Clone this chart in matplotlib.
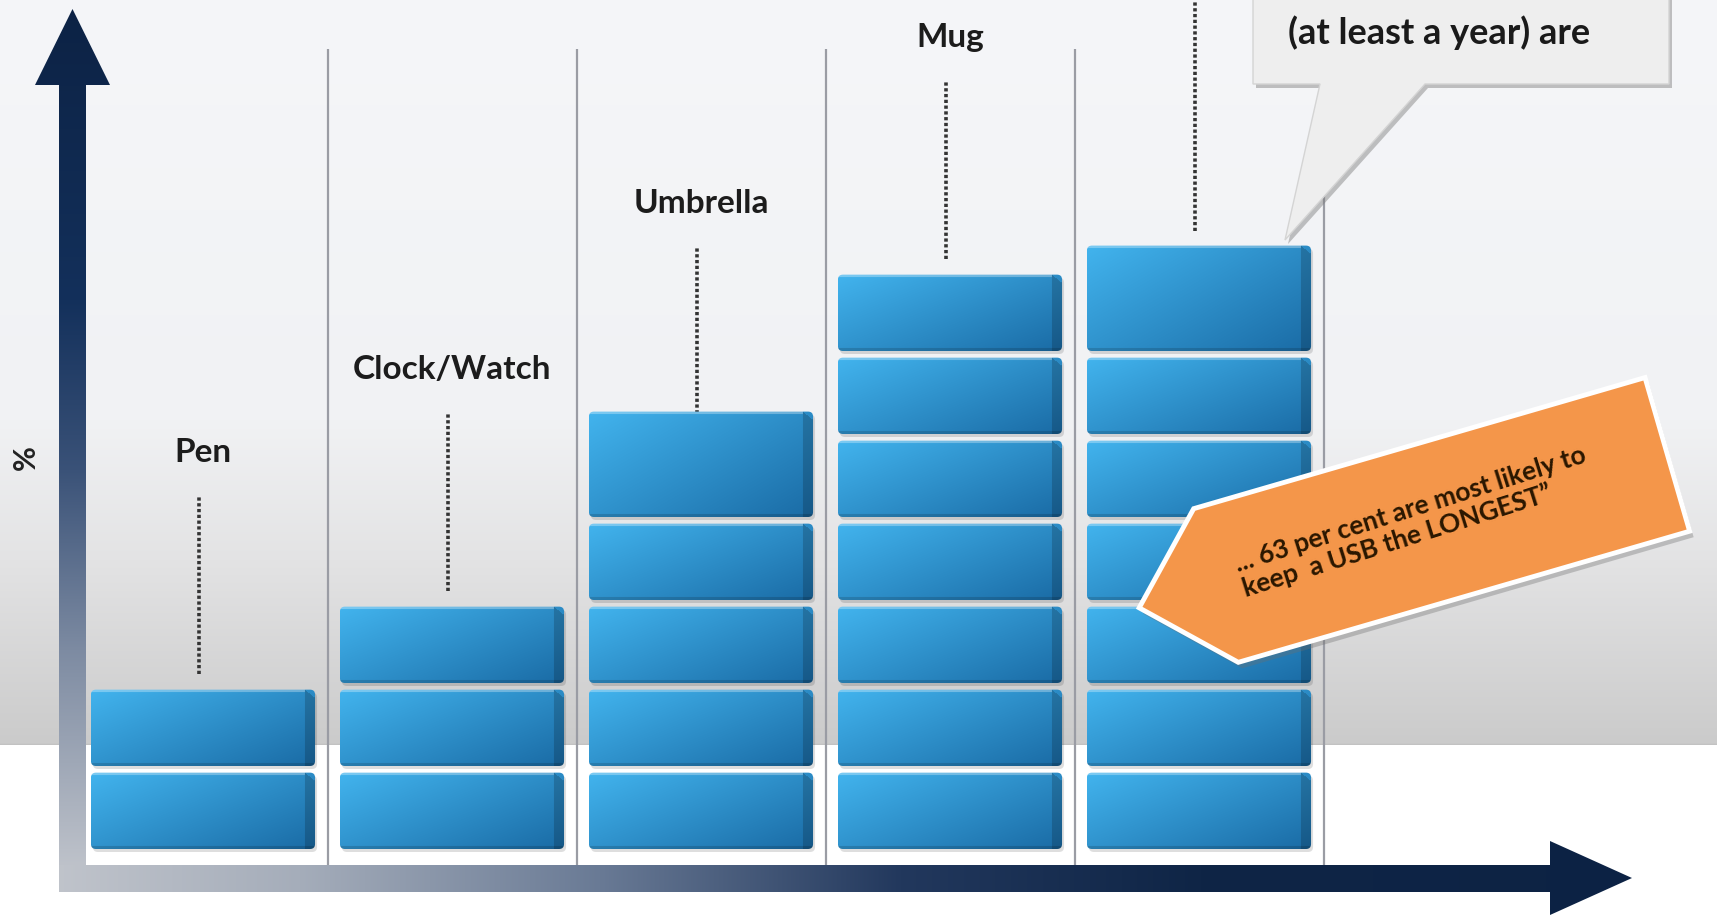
import numpy as np
import matplotlib
matplotlib.use("Agg")
import matplotlib.pyplot as plt
from matplotlib.patches import FancyBboxPatch, Polygon
from matplotlib.colors import to_rgb

# ---------------- data ----------------
categories = ["Pen", "Clock/Watch", "Umbrella", "Mug", "USB"]
stack_blocks = [2, 3, 5.35, 7, 7.35]       # height of each stack, in blocks
label_visible = [True, True, True, True, False]   # USB label lies above the visible area
callout_text = "(at least a year) are"
arrow_text = "... 63 per cent are most likely to\nkeep  a USB the LONGEST\u201d"
y_axis_label = "%"

# ---------------- layout ----------------
W, H = 1717, 915
PX_X, PX_Y = 249.0, 83.0       # pixels per category / per block
ORIG_X, ORIG_Y = 203.0, 849.0  # pixel of (0, 0)
FONT = "Lato"

fig = plt.figure(figsize=(W / 100, H / 100), dpi=100)


def stops_interp(pos, stops):
    p = np.array([s[0] for s in stops], float)
    c = np.array([to_rgb(s[1]) for s in stops])
    return np.stack([np.interp(pos, p, c[:, k]) for k in range(3)], axis=-1)


# background
bg = fig.add_axes([0, 0, 1, 1], zorder=0)
bg.set_xlim(0, W); bg.set_ylim(H, 0); bg.axis("off")
ys = np.arange(H) + 0.5
bgcol = stops_interp(ys, [(0, "#f5f6f9"), (420, "#f1f2f4"), (560, "#e3e3e4"),
                          (743, "#cbcbcb"), (744.5, "#c2c2c2"), (745.5, "#ffffff"), (H, "#ffffff")])
bg.imshow(bgcol[:, None, :], extent=(0, W, H, 0), aspect="auto", interpolation="nearest")

# main data axes
ax = fig.add_axes([0, 0, 1, 1], zorder=1)
ax.patch.set_alpha(0)
ax.set_xlim(-ORIG_X / PX_X, (W - ORIG_X) / PX_X)
ax.set_ylim(-(H - ORIG_Y) / PX_Y, ORIG_Y / PX_Y)
ax.axis("off")

# separators
n = len(categories)
ax.vlines([i + 0.5 for i in range(n)], -0.19, 9.64, color="#9a9ca4", lw=1.6, zorder=1)

light = np.array(to_rgb("#42b4ee"))
dark = np.array(to_rgb("#1a6ba5"))
GAP = 0.08
BW = 0.9


def draw_block(xc, y0, h):
    x0, x1 = xc - BW / 2, xc + BW / 2
    y1 = y0 + h - GAP
    hp = int((y1 - y0) * PX_Y)
    wp = int(BW * PX_X)
    u = np.linspace(0, 1, wp)[None, :]
    v = np.linspace(0, 1, hp)[:, None]
    t = np.clip(0.55 * u + 0.45 * v, 0, 1)
    img = light[None, None, :] * (1 - t[..., None]) + dark[None, None, :] * t[..., None]
    upx = u * wp
    vpx = v * hp
    side = (upx > wp - 11) & (vpx > (upx - (wp - 11)) * 0.8)
    img[side] *= 0.82
    top = (vpx < 3) & (upx < wp - 11)
    img[top] = img[top] * 0.7 + 0.3
    bot = (vpx > hp - 3) & np.ones_like(upx, bool)
    img[bot] *= 0.85
    img = np.clip(img, 0, 1)
    sh = FancyBboxPatch((x0 + 2 / PX_X, y0 - 3 / PX_Y), x1 - x0, y1 - y0,
                        boxstyle="round,pad=0,rounding_size=0.02", mutation_aspect=PX_X / PX_Y,
                        fc="#000000", ec="none", alpha=0.13, zorder=2)
    ax.add_patch(sh)
    clip = FancyBboxPatch((x0, y0), x1 - x0, y1 - y0,
                          boxstyle="round,pad=0,rounding_size=0.02", mutation_aspect=PX_X / PX_Y,
                          fc="none", ec="none", zorder=3)
    ax.add_patch(clip)
    im = ax.imshow(img, extent=(x0, x1, y0, y1), origin="upper", aspect="auto",
                   interpolation="bilinear", zorder=3)
    im.set_clip_path(clip)


for i, (cat, val, show) in enumerate(zip(categories, stack_blocks, label_visible)):
    k = max(1, int(np.floor(val + 1e-9)))
    heights = [1.0] * (k - 1) + [val - (k - 1)]
    y = 0.0
    for h in heights:
        draw_block(i, y, h)
        y += h
    base = np.floor(val)
    lead_top = base + (2.27 if show else 3.4)
    lead_bot = base + 0.11 if show else val + 0.1
    ax.plot([i - 0.015, i - 0.015], [lead_bot, lead_top], color="#333333", lw=2.6,
            linestyle=(0, (0.9, 0.7)), zorder=2, solid_capstyle="butt")
    if show:
        ax.text(i, base + 2.66, cat, ha="center", va="baseline", fontsize=24,
                fontweight="bold", color="#1c1c1c", family=FONT, zorder=4)

# overlay (pixel coordinates) for axes arrows and callouts
ov = fig.add_axes([0, 0, 1, 1], zorder=3)
ov.patch.set_alpha(0)
ov.set_xlim(0, W); ov.set_ylim(H, 0); ov.axis("off")


def gradient_poly(verts, stops, vertical):
    p = Polygon(verts, closed=True, fc="none", ec="none")
    ov.add_patch(p)
    if vertical:
        arr = stops_interp(np.arange(H) + 0.5, stops)[:, None, :]
    else:
        arr = stops_interp(np.arange(W) + 0.5, stops)[None, :, :]
    im = ov.imshow(arr, extent=(0, W, H, 0), aspect="auto", interpolation="bilinear", zorder=2)
    im.set_clip_path(p)


# y axis arrow
gradient_poly([(59, 892), (59, 85), (35, 85), (72.5, 9), (110, 85), (86, 85), (86, 892)],
              [(0, "#0c2244"), (300, "#13305b"), (470, "#3a5278"), (650, "#7d8ba2"),
               (892, "#c6c9cf")], True)
# x axis arrow
gradient_poly([(59, 865), (1550, 865), (1550, 841), (1632, 878), (1550, 915), (1550, 892), (59, 892)],
              [(0, "#c6c9cf"), (300, "#a5adba"), (600, "#697a95"), (900, "#22385d"),
               (1200, "#0f2546"), (W, "#0c2244")], False)

ov.text(26, 458, y_axis_label, rotation=90, ha="center", va="center", fontsize=22,
        fontweight="bold", color="#222222", family=FONT)

# speech callout top right
box = [(1253, -20), (1669, -20), (1669, 84), (1425, 84), (1285, 240), (1320, 84), (1253, 84)]
ov.add_patch(Polygon([(x + 3, y + 4) for x, y in box], closed=True, fc="#7a7a7a",
                     ec="none", alpha=0.45, zorder=4))
ov.add_patch(Polygon(box, closed=True, fc="#eeeeee", ec="#d4d4d4", lw=1, zorder=5))
ov.text(1439, 44, callout_text, ha="center", va="baseline", fontsize=26, fontweight="bold",
        color="#1a1a1a", family=FONT, zorder=6)

# orange arrow
ang = np.deg2rad(16.2)
d = np.array([np.cos(ang), -np.sin(ang)])
nv = np.array([np.sin(ang), np.cos(ang)])
L = np.array([1216.0, 585.5])
length, half, tip = 470.0, 80.0, 80.0
pts = [L - nv * half, L + d * length - nv * half, L + d * length + nv * half,
       L + nv * half, L - d * tip]
ov.add_patch(Polygon([(p[0] + 4, p[1] + 6) for p in pts], closed=True, fc="#6d6d6d",
                     ec="none", alpha=0.35, zorder=4))
ov.add_patch(Polygon(pts, closed=True, fc="#f4964a", ec="white", lw=3.5,
                     joinstyle="miter", zorder=5))
ov.text(1414, 522, arrow_text, rotation=17.5, rotation_mode="anchor", ha="center",
        va="center", multialignment="left", fontsize=19, fontweight="bold",
        color="#2a1700", family=FONT, linespacing=1.05, zorder=6)

fig.savefig("out.png", dpi=100)
